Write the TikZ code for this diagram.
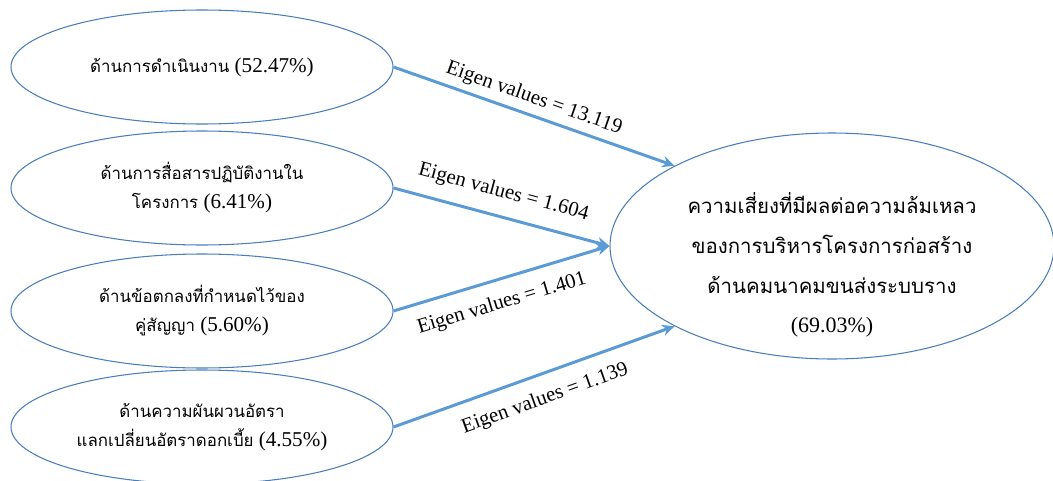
\documentclass[tikz,border=0pt]{standalone}
\usepackage{fontspec}
\setmainfont{Liberation Serif}
\newfontfamily\thaifont[Script=Thai,Scale=0.80]{Loma}
\newfontfamily\thaibig[Script=Thai,Scale=0.93]{Loma}
\usetikzlibrary{arrows.meta, shapes.geometric}
\definecolor{ellblue}{RGB}{74,126,187}
\definecolor{arrblue}{RGB}{91,155,213}

\begin{document}
\begin{tikzpicture}[
    factor/.style={ellipse, draw=ellblue, line width=0.6pt, minimum width=7.64cm, minimum height=2.28cm, inner sep=0pt, align=center, font=\fontsize{12}{16.5}\selectfont},
    outcome/.style={ellipse, draw=ellblue, line width=0.6pt, minimum width=8.88cm, minimum height=4.52cm, inner sep=0pt},
    link/.style={draw=arrblue, line width=1.7pt, -{Stealth[length=7pt,width=6.5pt]}},
    eigen/.style={sloped, font=\fontsize{11.8}{14}\selectfont}
]
    \useasboundingbox (0,0) rectangle (21.06,9.6);

    % Factors
    \node[factor] (fac1) at (4.04,8.26) {{\thaifont ด้านการดำเนินงาน} (52.47\%)};
    \node[factor] (fac2) at (4.04,5.84) {{\thaifont ด้านการสื่อสารปฏิบัติงานใน}\\{\thaifont โครงการ} (6.41\%)};
    \node[factor] (fac3) at (4.04,3.38) {{\thaifont ด้านข้อตกลงที่กำหนดไว้ของ}\\{\thaifont คู่สัญญา} (5.60\%)};
    \node[factor] (fac4) at (4.04,1.06) {{\thaifont ด้านความผันผวนอัตรา}\\{\thaifont แลกเปลี่ยนอัตราดอกเบี้ย} (4.55\%)};

    % Outcome
    \node[outcome] (risk) at (16.64,4.68) {};
    \node[align=center, font=\fontsize{12.5}{22.6}\selectfont] (riskText) at (16.64,4.30) {{\thaibig ความเสี่ยงที่มีผลต่อความล้มเหลว}\\{\thaibig ของการบริหารโครงการก่อสร้าง}\\{\thaibig ด้านคมนาคมขนส่งระบบราง}\\(69.03\%)};

    % Eigen value links
    \draw[link] (fac1.east) -- (risk.153) node[eigen, above, pos=0.48] {Eigen values = 13.119};
    \draw[link] (fac2.east) -- (risk.west) node[eigen, above=4.2pt, pos=0.48] {Eigen values = 1.604};
    \draw[link] (fac3.east) -- (risk.west) node[eigen, below=4.2pt, pos=0.47] {Eigen values = 1.401};
    \draw[link] (fac4.east) -- (risk.207) node[eigen, below=4.5pt, pos=0.51] {Eigen values = 1.139};
\end{tikzpicture}
\end{document}
